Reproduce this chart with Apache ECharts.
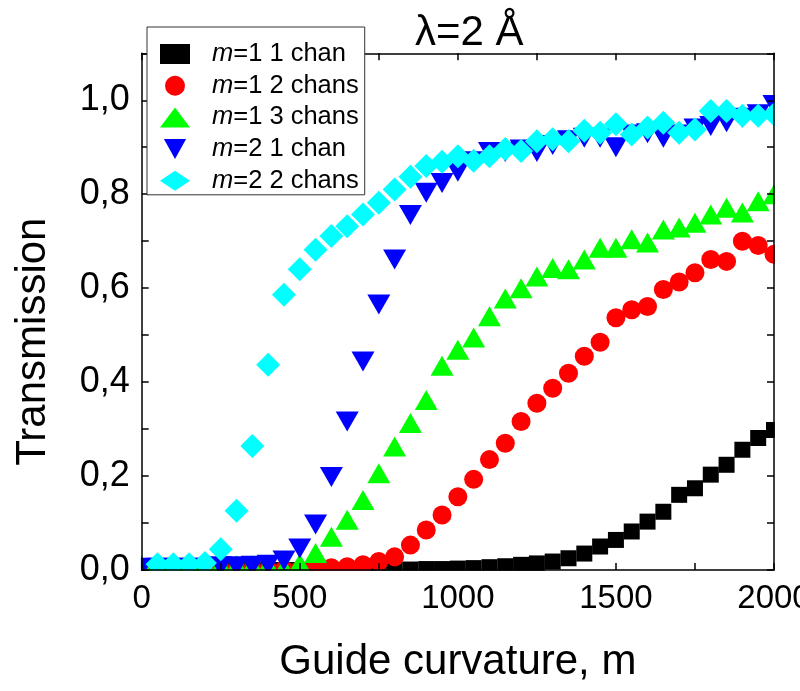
<!DOCTYPE html>
<html>
<head>
<meta charset="utf-8">
<script src="https://cdn.jsdelivr.net/npm/echarts@6/dist/echarts.min.js"></script>
<style>
html,body{margin:0;padding:0;background:#fff;}
#chart{width:800px;height:691px;}
</style>
</head>
<body>
<div id="chart"></div>
<script>
// Guide curvature, m (x values)
const curvature = [0,50,100,150,200,250,300,350,400,450,500,550,600,650,700,750,800,850,900,950,1000,
  1050,1100,1150,1200,1250,1300,1350,1400,1450,1500,1550,1600,1650,1700,1750,1800,1850,1900,1950,2000];

// m=1 1 chan
const m1c1 = [0,0,0,0,0,0,0,0,0,0,0,0,0,0,0,0,0.001,0.001,0.002,0.002,0.003,
  0.004,0.006,0.008,0.011,0.014,0.018,0.025,0.035,0.05,0.064,0.082,0.103,0.124,0.16,0.174,0.203,0.224,0.256,0.281,0.298];
// m=1 2 chans
const m1c2 = [0,0,0,0,0,0,0,0,0,0,0,0.003,0.005,0.007,0.011,0.018,0.028,0.053,0.085,0.117,0.156,
  0.193,0.235,0.27,0.316,0.355,0.387,0.419,0.455,0.485,0.537,0.554,0.561,0.597,0.613,0.633,0.661,0.657,0.70,0.691,0.672];
// m=1 3 chans
const m1c3 = [0.01,0.01,0.01,0.01,0.01,0.01,0.01,0.01,0.01,0.005,0.014,0.036,0.071,0.107,0.149,0.206,0.263,0.313,0.362,0.435,0.469,
  0.495,0.54,0.578,0.60,0.625,0.643,0.640,0.661,0.686,0.686,0.704,0.697,0.725,0.729,0.739,0.757,0.771,0.761,0.785,0.80];
// m=2 1 chan
const m2c1 = [0.005,0.005,0.005,0.005,0.005,0.008,0.008,0.009,0.011,0.02,0.046,0.097,0.198,0.316,0.444,0.565,0.661,0.756,0.803,0.824,0.848,
  0.87,0.89,0.89,0.895,0.89,0.905,0.915,0.92,0.92,0.90,0.927,0.93,0.92,0.927,0.94,0.945,0.953,0.963,0.97,0.99];
// m=2 2 chans
const m2c2 = [null,0.012,0.012,0.012,0.015,0.044,0.126,0.264,0.437,0.586,0.64,0.682,0.711,0.732,0.757,0.782,0.81,0.837,0.86,0.869,0.881,
  0.871,0.881,0.896,0.892,0.913,0.917,0.913,0.935,0.931,0.949,0.927,0.942,0.952,0.931,0.938,0.977,0.977,0.967,0.967,0.97];

const seriesNames = ['m=1 1 chan','m=1 2 chans','m=1 3 chans','m=2 1 chan','m=2 2 chans'];
const xTickLabels = ['0','500','1000','1500','2000'];
const yTickLabels = ['0,0','0,2','0,4','0,6','0,8','1,0'];

const FONT = '"Liberation Sans", Arial, sans-serif';

function pairs(vals){
  const out = [];
  for (let i = 0; i < curvature.length; i++) {
    if (vals[i] !== null) out.push([curvature[i], vals[i]]);
  }
  return out;
}

const styles = [
  {symbol:'rect', size:16, color:'#000000', rotate:0},
  {symbol:'circle', size:19, color:'#ff0000', rotate:0},
  {symbol:'triangle', size:[23,20], color:'#00ff00', rotate:0},
  {symbol:'triangle', size:[23,20], color:'#0000ff', rotate:180},
  {symbol:'diamond', size:[24,24], color:'#00ffff', rotate:0}
];
const legendIcons = ['rect','circle','triangle','path://M0,0 L10,0 L5,9 Z','diamond'];
const allData = [m1c1, m1c2, m1c3, m2c1, m2c2];

const series = seriesNames.map((n, k) => ({
  name: n,
  type: 'scatter',
  xAxisIndex: 0, yAxisIndex: 0,
  symbol: styles[k].symbol,
  symbolSize: styles[k].size,
  symbolRotate: styles[k].rotate,
  itemStyle: {color: styles[k].color, opacity: 1},
  clip: false,
  z: 2 + k,
  data: pairs(allData[k])
}));

const axisLineStyle = {show: true, onZero: false, lineStyle: {color: '#000', width: 1.5}};
const tickStyle = {show: true, inside: true, length: 7, lineStyle: {color: '#000', width: 1.5}};

const G = {left: 141.7, right: 26, top: 53.3, bottom: 121};

const option = {
  backgroundColor: '#fff',
  animation: false,
  title: {
    text: 'λ=2 Å',
    left: 410, top: 7, z: 80,
    textStyle: {fontFamily: FONT, fontSize: 42, fontWeight: 'normal', color: '#000'}
  },
  legend: {
    orient: 'vertical',
    left: 147, top: 27,
    padding: [14, 6, 1, 13],
    itemWidth: 30, itemHeight: 20, itemGap: 5.7,
    backgroundColor: '#fff',
    borderColor: '#333', borderWidth: 1,
    z: 90,
    data: seriesNames.map((n, k) => ({name: n, icon: legendIcons[k]})),
    formatter: function(name){ return '{i|' + name.charAt(0) + '}{t|' + name.slice(1) + '}'; },
    textStyle: {
      fontFamily: FONT, fontSize: 25.5, color: '#000', lineHeight: 20, padding: [0,0,0,17],
      rich: {
        i: {fontFamily: FONT, fontSize: 25.5, fontStyle: 'italic', color: '#000', lineHeight: 20},
        t: {fontFamily: FONT, fontSize: 25.5, color: '#000', lineHeight: 20}
      }
    }
  },
  grid: {left: G.left, right: G.right, top: G.top, bottom: G.bottom, containLabel: false, outerBoundsMode: 'none'},
  graphic: [
    // white masks outside the plot frame so markers are clipped at the frame, as in the original plot
    {type: 'rect', z: 50, silent: true, shape: {x: 0, y: 691 - G.bottom + 0.8, width: 800, height: G.bottom}, style: {fill: '#fff'}},
    {type: 'rect', z: 50, silent: true, shape: {x: 0, y: 0, width: G.left - 0.8, height: 691}, style: {fill: '#fff'}},
    {type: 'rect', z: 50, silent: true, shape: {x: 800 - G.right + 0.8, y: 0, width: G.right, height: 691}, style: {fill: '#fff'}}
  ],
  xAxis: [
    {
      type: 'value', position: 'bottom', min: 0, max: 2000, interval: 250, z: 60,
      axisLine: axisLineStyle, axisTick: tickStyle, splitLine: {show: false},
      axisLabel: {
        show: true, margin: 12, color: '#000', fontFamily: FONT, fontSize: 33,
        showMaxLabel: true, hideOverlap: false,
        formatter: function(v){ const i = Math.round(v/500); return (v % 500 === 0) ? xTickLabels[i] : ''; }
      },
      name: 'Guide curvature, m', nameLocation: 'middle', nameGap: 71,
      nameTextStyle: {fontFamily: FONT, fontSize: 42, color: '#000'}
    },
    {
      type: 'value', position: 'top', min: 0, max: 2000, interval: 250, z: 60,
      axisLine: axisLineStyle, axisTick: tickStyle, splitLine: {show: false},
      axisLabel: {show: false}
    }
  ],
  yAxis: [
    {
      type: 'value', position: 'left', min: 0, max: 1.1, interval: 0.1, z: 60,
      axisLine: axisLineStyle, axisTick: tickStyle, splitLine: {show: false},
      axisLabel: {
        show: true, margin: 12, color: '#000', fontFamily: FONT, fontSize: 36,
        formatter: function(v){ const r = Math.round(v*10); return (r % 2 === 0 && r <= 10) ? yTickLabels[r/2] : ''; }
      },
      name: 'Transmission', nameLocation: 'middle', nameGap: 87, nameRotate: 90,
      nameTextStyle: {fontFamily: FONT, fontSize: 42, color: '#000', padding: [0, 60, 0, 0]}
    },
    {
      type: 'value', position: 'right', min: 0, max: 1.1, interval: 0.1, z: 60,
      axisLine: axisLineStyle, axisTick: tickStyle, splitLine: {show: false},
      axisLabel: {show: false}
    }
  ],
  series: series
};

const chart = echarts.init(document.getElementById('chart'), null, {renderer: 'canvas'});
chart.setOption(option);
</script>
</body>
</html>
